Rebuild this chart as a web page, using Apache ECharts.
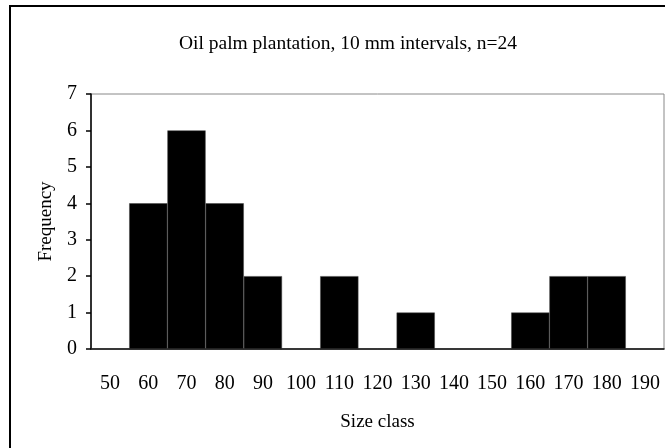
<!DOCTYPE html>
<html>
<head>
<meta charset="utf-8">
<script src="https://cdn.jsdelivr.net/npm/echarts@6/dist/echarts.min.js"></script>
<style>
  html, body { margin: 0; padding: 0; background: #fff; }
  #chart { width: 665px; height: 448px; }
</style>
</head>
<body>
<div id="chart"></div>
<script>
// size classes (mm), 10 mm bins
var sizeClasses = ['50', '60', '70', '80', '90', '100', '110', '120', '130', '140', '150', '160', '170', '180', '190'];
// frequency per class
var frequency = [0, 4, 6, 4, 2, 0, 2, 0, 1, 0, 0, 1, 2, 2, 0];

var font = 'Liberation Serif';
var chart = echarts.init(document.getElementById('chart'));
chart.setOption({
  animation: false,
  backgroundColor: '#fff',
  title: {
    text: 'Oil palm plantation, 10 mm intervals, n=24',
    left: 343,
    textAlign: 'center',
    top: 29,
    textStyle: { fontFamily: font, fontSize: 19.5, fontWeight: 'normal', color: '#000' }
  },
  graphic: [{
    type: 'rect',
    shape: { x: 10, y: 6, width: 700, height: 500 },
    style: { fill: 'none', stroke: '#000', lineWidth: 2 },
    silent: true
  }],
  grid: {
    left: 91, right: 1, top: 94, bottom: 99,
    show: true, borderColor: '#888', borderWidth: 1
  },
  xAxis: {
    type: 'category',
    data: sizeClasses,
    name: 'Size class',
    nameLocation: 'middle',
    nameGap: 64,
    nameTextStyle: { fontFamily: font, fontSize: 19, color: '#000' },
    axisLine: { lineStyle: { color: '#000', width: 1.5 } },
    axisTick: { length: 6, lineStyle: { color: '#000', width: 1.5 } },
    axisLabel: { fontFamily: font, fontSize: 20, color: '#000', margin: 25, interval: 0 }
  },
  yAxis: {
    type: 'value',
    min: 0, max: 7, interval: 1,
    name: 'Frequency',
    nameLocation: 'middle',
    nameGap: 35,
    nameTextStyle: { fontFamily: font, fontSize: 19, color: '#000' },
    axisLine: { show: true, lineStyle: { color: '#000', width: 1.5 } },
    axisTick: { show: true, length: 5, lineStyle: { color: '#000', width: 1.5 } },
    axisLabel: { fontFamily: font, fontSize: 20, color: '#000', margin: 14 },
    splitLine: { show: false }
  },
  series: [{
    type: 'bar',
    data: frequency,
    barWidth: '100%',
    itemStyle: { color: '#000', borderColor: '#444', borderWidth: 0.5 }
  }]
});
</script>
</body>
</html>
